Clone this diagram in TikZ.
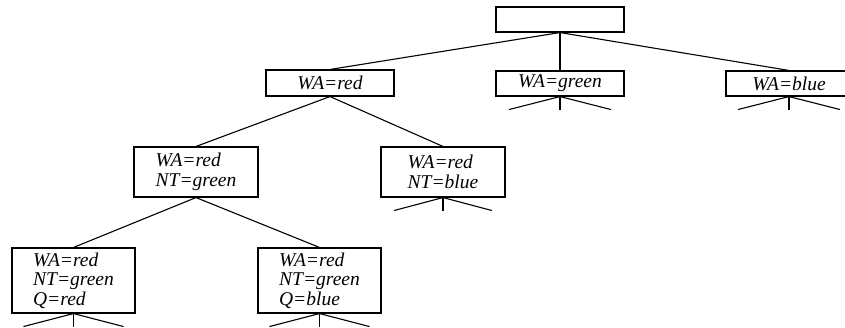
\documentclass[tikz,border=0pt]{standalone}
\usepackage{fontspec}
\setmainfont{Liberation Serif}
\usetikzlibrary{calc}
\begin{document}
\begin{tikzpicture}[x=1pt,y=-1pt,
  state/.style={draw, line width=1.1pt, inner sep=0pt, align=left,
    font=\fontsize{19.5}{19.5}\selectfont\itshape},
  edge/.style={line width=1.1pt}]
\useasboundingbox (0,0) rectangle (845,327);
\node[state, minimum width=128, minimum height=25] (root) at (560,19.5) {};
\node[state, minimum width=128, minimum height=26] (wared) at (330,83) {WA=red};
\node[state, minimum width=128, minimum height=25] (wagreen) at (560,83.5) {WA=green};
\node[state, minimum width=126, minimum height=25] (wablue) at (789,83.5) {WA=blue};
\node[state, minimum width=124, minimum height=50] (ntgreen) at (196,172) {WA=red\\NT=green};
\node[state, minimum width=124, minimum height=50] (ntblue) at (443,172) {WA=red\\NT=blue};
\node[state, minimum width=123, minimum height=65] (qred) at (73.5,280.5) {WA=red\\NT=green\\Q=red};
\node[state, minimum width=123, minimum height=65] (qblue) at (319.5,280.5) {WA=red\\NT=green\\Q=blue};
\draw[edge] (root.south) -- (wared.north);
\draw[edge] (root.south) -- (wagreen.north);
\draw[edge] (root.south) -- (wablue.north);
\draw[edge] (wared.south) -- (ntgreen.north);
\draw[edge] (wared.south) -- (ntblue.north);
\draw[edge] (ntgreen.south) -- (qred.north);
\draw[edge] (ntgreen.south) -- (qblue.north);
\foreach \n/\d in {wagreen/51, wablue/51, ntblue/49, qred/50, qblue/50}{
  \coordinate (\n L) at ($(\n.south)+(-\d,13)$);
  \coordinate (\n M) at ($(\n.south)+(0,13)$);
  \coordinate (\n R) at ($(\n.south)+(\d,13)$);
  \draw[edge] (\n L) -- (\n.south) -- (\n R);
  \draw[edge] (\n.south) -- (\n M);
}
\end{tikzpicture}
\end{document}
